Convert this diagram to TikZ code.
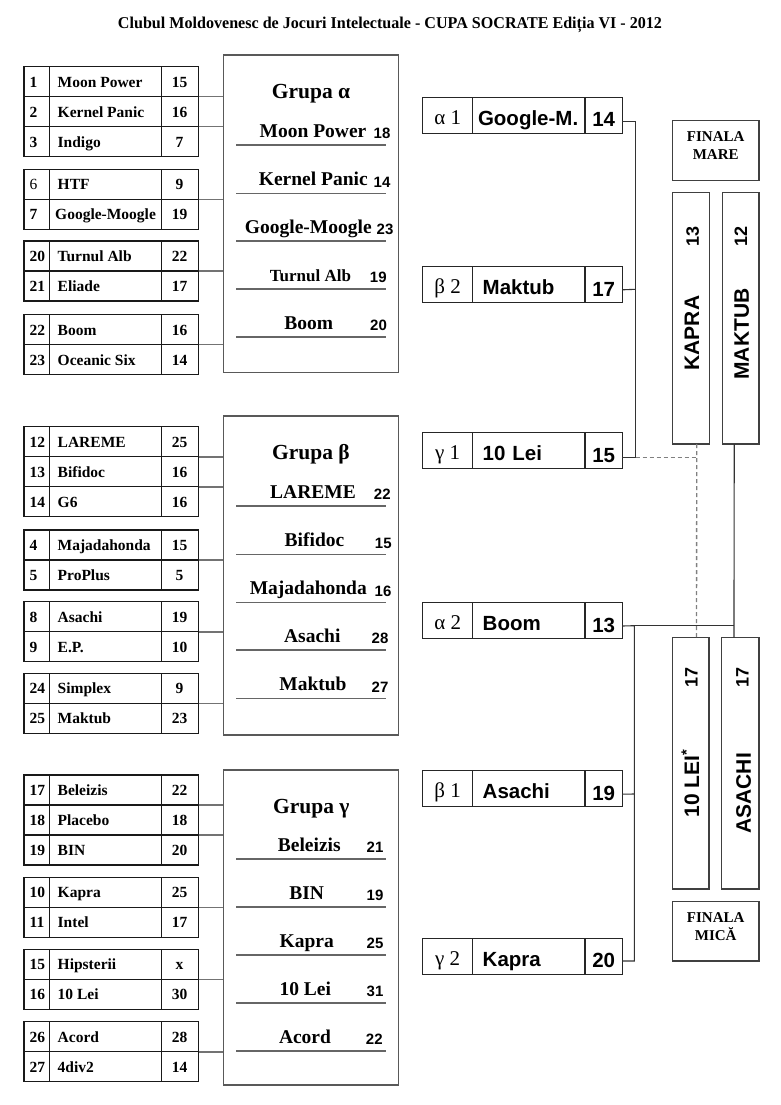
\documentclass[tikz,border=0pt]{standalone}
\usepackage{fontspec}
\setmainfont{Liberation Serif}
\newfontfamily\arial{Liberation Sans}
\usepackage{graphicx}
\newsavebox\tbox
\newcommand\teamtable[2]{%
  \foreach [count=\i] \n/\t/\s in {#2}{%
    \pgfmathsetmacro\yt{#1+(\i-1)*30}%
    \draw[tb] (24,\yt) rectangle (198.7,\yt+30) (49.3,\yt) -- (49.3,\yt+30) (161.7,\yt) -- (161.7,\yt+30);
    \node[tnum] at (29.5,\yt+20.5) {\n};
    \node[tname] at (57.5,\yt+20.5) {\t};
    \node[tscore] at (179.5,\yt+20.5) {\s};
    \ifnum\i>1 \draw[tconn] (198.7,\yt) -- (223.3,\yt);\fi
  }}
\newcommand\grpentries[1]{%
  \foreach \nm/\nx/\sc/\sx/\ul in {#1}{%
    \draw[uline] (236,\ul) -- (385.7,\ul);
    \node[gname] at (\nx,\ul-7.5) {\nm};
    \node[gscore] at (\sx,\ul-6.3) {\sc};
  }}
\begin{document}
\begin{tikzpicture}[x=1pt,y=-1pt,
  tb/.style={draw=black!90,line width=1.1pt},
  tconn/.style={draw=black!55,line width=1.6pt},
  gbox/.style={draw=black!65,line width=1.3pt,anchor=north west,inner sep=0pt,outer sep=0pt,minimum width=175pt},
  uline/.style={draw=black!60,line width=1.6pt},
  tnum/.style={font=\fontsize{15.5}{16}\selectfont\bfseries,inner sep=0pt,anchor=base west},
  tname/.style={font=\fontsize{15.5}{16}\selectfont\bfseries,inner sep=0pt,anchor=base west},
  tscore/.style={font=\fontsize{15.5}{16}\selectfont\bfseries,inner sep=0pt,anchor=base},
  gtitle/.style={font=\fontsize{21.5}{22}\selectfont\bfseries,inner sep=0pt,anchor=base},
  gname/.style={font=\fontsize{19.5}{20}\selectfont\bfseries,inner sep=0pt,anchor=base},
  gscore/.style={font=\arial\bfseries\fontsize{15}{16}\selectfont,inner sep=0pt,anchor=base},
  mcell/.style={draw=black!85,line width=1.1pt,minimum height=36pt,inner xsep=0pt,inner ysep=0pt,outer sep=0pt,anchor=north west,text depth=0pt},
  mlab/.style={mcell,minimum width=50pt,text height=18pt,font=\fontsize{21}{21}\selectfont},
  mname/.style={mcell,minimum width=112.3pt,inner xsep=10pt,text width=92.3pt,align=left,text height=20pt,font=\arial\bfseries\fontsize{20.5}{21}\selectfont},
  mscore/.style={mcell,minimum width=37.3pt,text height=23pt,font=\arial\bfseries\fontsize{20.5}{21}\selectfont},
  mconn/.style={draw=black!80,line width=1.1pt},
  dconn/.style={draw=black!50,line width=1.3pt,dash pattern=on 4pt off 3pt},
  vbox/.style={draw=black!75,line width=1.3pt,anchor=north west,inner sep=0pt,outer sep=0pt},
  vname/.style={font=\arial\bfseries\fontsize{21}{21}\selectfont,inner sep=0pt,anchor=base,rotate=90},
  vnum/.style={font=\arial\bfseries\fontsize{18}{18}\selectfont,inner sep=0pt,anchor=base,rotate=90},
  fintxt/.style={font=\fontsize{15}{18}\selectfont\bfseries,align=center,inner sep=0pt}
]
\useasboundingbox[fill=white] (0,0) rectangle (781,1105);

% title
\node[anchor=base,inner sep=0pt] (title) at (390,28.3) {\sbox\tbox{\fontsize{16.5}{18}\selectfont\bfseries Clubul Moldovenesc de Jocuri Intelectuale - CUPA SOCRATE Ediția VI - 2012}\resizebox{544pt}{\ht\tbox}{\usebox\tbox}};

% group boxes
\node[gbox,minimum height=317.3pt] (ga) at (223.3,55) {};
\node[gbox,minimum height=319pt] (gb) at (223.3,416) {};
\node[gbox,minimum height=315pt] (gc) at (223.3,770) {};

% tables alpha
\teamtable{66.7}{1/Moon Power/15, 2/Kernel Panic/16, 3/Indigo/7}
\teamtable{169.3}{{\mdseries 6}/HTF/9, 7/\hspace*{-2.5pt}Google-Moogle/19}
\teamtable{241}{20/Turnul Alb/22, 21/Eliade/17}
\teamtable{314.5}{22/Boom/16, 23/Oceanic Six/14}
% tables beta
\teamtable{426.7}{12/LAREME/25, 13/Bifidoc/16, 14/G6/16}
\teamtable{530}{4/Majadahonda/15, 5/ProPlus/5}
\teamtable{601.7}{8/Asachi/19, 9/E.P./10}
\teamtable{673.3}{24/Simplex/9, 25/Maktub/23}
% tables gamma
\teamtable{775}{17/Beleizis/22, 18/Placebo/18, 19/BIN/20}
\teamtable{877.3}{10/Kapra/25, 11/Intel/17}
\teamtable{949.3}{15/Hipsterii/x, 16/10 Lei/30}
\teamtable{1021.7}{26/Acord/28, 27/4div2/14}

% group contents
\node[gtitle] (gta) at (311,98.3) {Grupa α};
\grpentries{Moon Power/313/18/382/145, Kernel Panic/313.3/14/382/193.3, Google-Moogle/308.3/23/385/241, {\fontsize{17}{18}\selectfont Turnul Alb}/310.5/19/378.3/288.7, Boom/308.8/20/378.5/336.7}
\node[gtitle] (gtb) at (311,459) {Grupa β};
\grpentries{LAREME/313/22/382.3/506, Bifidoc/314.5/15/383.3/554.3, Majadahonda/308.3/16/383/602.3, Asachi/312.3/28/380/650, Maktub/313/27/380/698.3}
\node[gtitle] (gtc) at (311.3,813.3) {Grupa γ};
\grpentries{Beleizis/309.3/21/375/859, BIN/306.7/19/375/906.7, Kapra/306.7/25/375/955, 10 Lei/305.3/31/375/1002.7, Acord/305/22/374.3/1050.7}

% middle boxes
\node[mlab] (a1l) at (422.7,97.3) {α 1};
\node[mname] (a1n) at (a1l.north east) {\hspace*{-4.7pt}\mbox{Google-M.}};
\node[mscore] (a1s) at (a1n.north east) {14};
\node[mlab] (b2l) at (422.7,266.7) {β 2};
\node[mname] (b2n) at (b2l.north east) {Maktub};
\node[mscore] (b2s) at (b2n.north east) {17};
\node[mlab] (c1l) at (422.7,432.7) {γ 1};
\node[mname] (c1n) at (c1l.north east) {10 Lei};
\node[mscore] (c1s) at (c1n.north east) {15};
\node[mlab] (a2l) at (422.7,602.7) {α 2};
\node[mname] (a2n) at (a2l.north east) {Boom};
\node[mscore] (a2s) at (a2n.north east) {13};
\node[mlab] (b1l) at (422.7,770.7) {β 1};
\node[mname] (b1n) at (b1l.north east) {Asachi};
\node[mscore] (b1s) at (b1n.north east) {19};
\node[mlab] (c2l) at (422.7,938.3) {γ 2};
\node[mname] (c2n) at (c2l.north east) {Kapra};
\node[mscore] (c2s) at (c2n.north east) {20};

% final boxes
\node[vbox,minimum width=86.7pt,minimum height=60pt] (fmare) at (672.3,120.7) {};
\node[fintxt] at (715.7,145.8) {FINALA\\MARE};
\node[vbox,minimum width=37pt,minimum height=251.3pt] (kap) at (672.3,192.7) {};
\node[vbox,minimum width=36.7pt,minimum height=251.3pt] (mak) at (722.3,192.7) {};
\node[vbox,minimum width=36.7pt,minimum height=251.3pt] (lei) at (672.3,637.7) {};
\node[vbox,minimum width=37.3pt,minimum height=251.3pt] (asa) at (721.7,637.7) {};
\node[vbox,minimum width=86.7pt,minimum height=59.3pt] (fmica) at (672.3,901.7) {};
\node[fintxt] at (715.7,926.2) {FINALA\\MICĂ};

\node[vname] at (699.2,333) {KAPRA};
\node[vnum] at (698.9,236.7) {13};
\node[vname] at (748.8,334) {MAKTUB};
\node[vnum] at (747.2,236) {12};
\node[vname] at (699.2,783.3) {10 LEI\textsuperscript{*}};
\node[vnum] at (697.7,677) {17};
\node[vname] at (750.8,793.3) {ASACHI};
\node[vnum] at (748.7,677) {17};

% bracket 1
\coordinate (j1) at (635.7,121.7);
\coordinate (j2) at (635.7,289.3);
\coordinate (j3) at (635.7,457.2);
\draw[mconn] (a1s.east) ++(0,6.4) -- (j1) -- (j3) -- ++(-13.4,0);
\draw[mconn] (b2s.east) ++(0,5.1) -- (j2);
\draw[dconn] (j3) -- (696.7,457.2);
\draw[dconn] ([xshift=5.9pt]kap.south) -- ([xshift=5.9pt]lei.north);
% bracket 2
\coordinate (k1) at (634.3,625.7);
\coordinate (k2) at (634.3,794);
\coordinate (k3) at (634.3,961);
\draw[mconn] (a2s.east) ++(0,5.3) -- (k1) -- (k3) -- ++(-12,0);
\draw[mconn] (b1s.east) ++(0,5.5) -- (k2);
\draw[mconn] (k1) -- (734.3,625.7);
\draw[mconn] ([xshift=-6.4pt]mak.south) -- ([xshift=-6.4pt]asa.north);
\end{tikzpicture}
\end{document}
